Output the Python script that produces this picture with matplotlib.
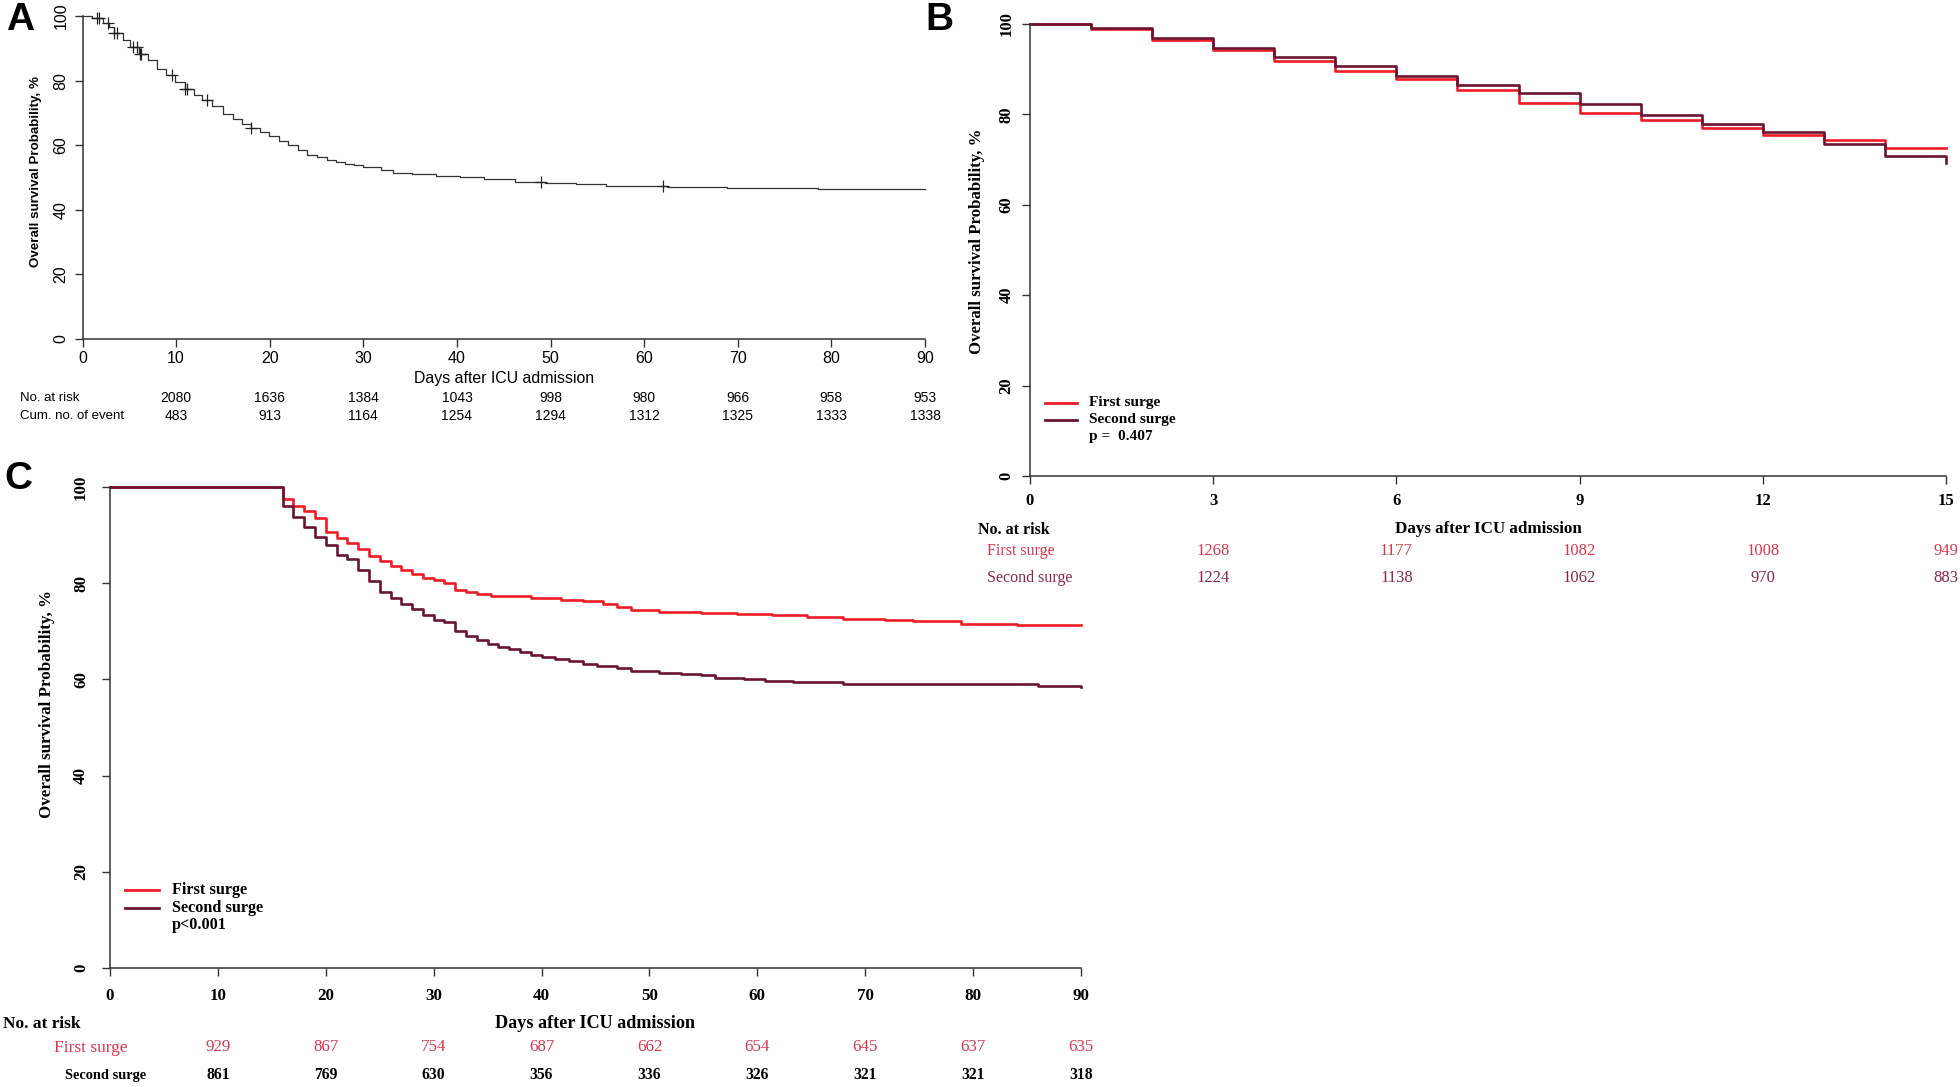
import numpy as np
import matplotlib
matplotlib.use('Agg')
import matplotlib.pyplot as plt
from matplotlib.lines import Line2D
from matplotlib.transforms import blended_transform_factory

# ---------------- Data ----------------
# Panel A (overall)
a_step_days = [0, 1.0, 2.2, 2.8, 3.4, 4.3, 5.1, 6.0, 7.0, 8.0, 8.9, 9.9, 10.9, 11.9, 12.8, 13.8,
               15.0, 16.1, 17.0, 18.0, 19.0, 19.9, 21.0, 22.0, 23.0, 24.0, 25.0, 26.1, 27.1, 28.0,
               29.0, 30.0, 31.9, 33.2, 35.2, 37.8, 40.3, 42.9, 46.2, 49.4, 52.7, 55.9, 62.4, 68.8, 78.6]
a_surv = [100, 99.3, 97.9, 96.5, 94.6, 92.5, 90.4, 88.3, 86.3, 83.7, 81.6, 79.5, 77.5, 75.6, 73.9, 72.0,
          69.7, 68.2, 66.6, 65.3, 64.0, 62.7, 61.2, 60.1, 58.4, 57.1, 56.3, 55.5, 54.8, 54.2,
          53.8, 53.2, 52.2, 51.4, 51.1, 50.6, 50.1, 49.4, 48.6, 48.2, 48.0, 47.5, 47.0, 46.8, 46.3]
a_censor_days = [1.5, 1.8, 2.75, 3.4, 3.65, 5.4, 5.8, 6.1, 6.3, 9.6, 10.9, 11.2, 13.3, 18.0, 49.0, 62.0]
a_table_days = [10, 20, 30, 40, 50, 60, 70, 80, 90]
a_at_risk = [2080, 1636, 1384, 1043, 998, 980, 966, 958, 953]
a_cum_events = [483, 913, 1164, 1254, 1294, 1312, 1325, 1333, 1338]

# Panel B (first 15 days)
b_step_days = [0, 1, 2, 3, 4, 5, 6, 7, 8, 9, 10, 11, 12, 13, 14, 15]
b_first = [100, 99.0, 96.4, 94.2, 91.9, 89.7, 87.9, 85.5, 82.6, 80.3, 78.7, 76.9, 75.5, 74.3, 72.6, 72.6]
b_second = [100, 99.2, 97.0, 94.7, 92.6, 90.7, 88.4, 86.5, 84.8, 82.2, 79.8, 77.8, 76.0, 73.4, 70.9, 69.2]
b_table_days = [3, 6, 9, 12, 15]
b_risk_first = [1268, 1177, 1082, 1008, 949]
b_risk_second = [1224, 1138, 1062, 970, 883]
b_pvalue = 'p =  0.407'

# Panel C (landmark from day 16)
c_first_days = [0, 16, 17, 18, 19, 20, 21, 22, 23, 24, 25, 26, 27, 28, 29, 30, 31, 32, 33, 34,
                35.3, 39, 41.8, 43.8, 45.7, 47, 48.3, 50.9, 54.8, 58.1, 61.4, 64.6, 67.9, 71.8, 74.4, 78.9, 84.1]
c_first = [100, 97.6, 96.2, 95.1, 93.6, 90.8, 89.5, 88.4, 87.2, 85.7, 84.6, 83.6, 82.9, 82.0, 81.2, 80.8,
           80.2, 78.7, 78.3, 77.8, 77.3, 76.9, 76.6, 76.3, 75.8, 75.1, 74.5, 74.1, 73.8, 73.6, 73.4, 73.0,
           72.7, 72.3, 72.1, 71.6, 71.4]
c_second_days = [0, 16, 17, 18, 19, 20, 21, 22, 23, 24, 25, 26, 27, 28, 29, 30, 31, 32, 33, 34, 35, 36,
                 37, 38, 39, 40, 41.2, 42.5, 43.8, 45.1, 47, 48.3, 50.9, 52.9, 54.8, 56.1, 58.8, 60.7,
                 63.3, 67.9, 83.5, 86, 90]
c_second = [100, 96.2, 93.8, 91.7, 89.7, 88.0, 85.9, 85.0, 82.9, 80.6, 78.3, 77.0, 75.7, 74.6, 73.5, 72.3,
            72.0, 70.0, 69.1, 68.3, 67.4, 66.8, 66.4, 65.7, 65.1, 64.7, 64.2, 63.8, 63.3, 62.9, 62.3,
            61.7, 61.4, 61.2, 60.9, 60.3, 60.0, 59.7, 59.4, 59.1, 59.0, 58.7, 58.4]
c_table_days = [10, 20, 30, 40, 50, 60, 70, 80, 90]
c_risk_first = [929, 867, 754, 687, 662, 654, 645, 637, 635]
c_risk_second = [861, 769, 630, 356, 336, 326, 321, 321, 318]
c_pvalue = 'p<0.001'

groups = ['First surge', 'Second surge']
y_ticks = [0, 20, 40, 60, 80, 100]

# ---------------- Style ----------------
W, H = 1960, 1087
RED = '#ee1c25'
DARK = '#6a1530'
RED_TXT = '#d8384e'
DARK_TXT = '#8a2747'
SANS = 'Liberation Sans'
SERIF = 'Liberation Serif'

fig = plt.figure(figsize=(W / 100, H / 100), dpi=100)
renderer = fig.canvas.get_renderer()


def rect(l, r, t, b):
    return [l / W, 1 - b / H, (r - l) / W, (b - t) / H]


def fy(ypix):
    return 1 - ypix / H


def size_for(text, family, weight, target_px):
    t = fig.text(0, 0, text, family=family, weight=weight, fontsize=12)
    w = t.get_window_extent(renderer).width
    t.remove()
    return 12 * target_px / w


def fit(t, target_px, vertical=False):
    bb = t.get_window_extent(renderer)
    cur = bb.height if vertical else bb.width
    t.set_fontsize(t.get_fontsize() * target_px / cur)


def step_plot(ax, days, vals, xmax, **kw):
    d = list(days)
    v = list(vals)
    if d[-1] < xmax:
        d.append(xmax)
        v.append(v[-1])
    ax.step(d, v, where='post', clip_on=False, **kw)


def style_axes(ax, xmax, xticks, family, size, xpad, ypad, weight='normal'):
    ax.set_xlim(0, xmax)
    ax.set_ylim(0, 100)
    for s in ['top', 'right']:
        ax.spines[s].set_visible(False)
    for s in ['left', 'bottom']:
        ax.spines[s].set_linewidth(1.1)
        ax.spines[s].set_color('#333333')
    ax.set_xticks(xticks)
    ax.set_yticks(y_ticks)
    ax.tick_params(length=6, width=1.0, color='#333333')
    ax.tick_params(axis='x', pad=xpad)
    ax.tick_params(axis='y', pad=ypad)
    for lab in ax.get_xticklabels():
        lab.set_family(family); lab.set_fontsize(size); lab.set_weight(weight)
    for lab in ax.get_yticklabels():
        lab.set_family(family); lab.set_fontsize(size); lab.set_weight(weight)
        lab.set_rotation(90); lab.set_va('center')
    ax.patch.set_alpha(0)


def vlabel(x_px, ax, yfrac, text, family, weight, target):
    tr = blended_transform_factory(fig.transFigure, ax.transAxes)
    t = fig.text(x_px / W, yfrac, text, transform=tr, rotation=90, ha='center', va='center',
                 family=family, weight=weight, fontsize=12)
    fit(t, target, vertical=True)
    return t


def legend_manual(ax, x0, x1, xt, ys, colors, labels, ptext, py, size):
    for y, c, lab in zip(ys, colors, labels):
        ax.add_line(Line2D([x0, x1], [y, y], color=c, lw=2.0, clip_on=False))
        ax.text(xt, y, lab, ha='left', va='center', family=SERIF, fontsize=size, weight='bold')
    ax.text(xt, py, ptext, ha='left', va='center', family=SERIF, fontsize=size, weight='bold')


# ---------------- Panel A ----------------
axA = fig.add_axes(rect(82.5, 925, 16, 339))
step_plot(axA, a_step_days, a_surv, 90, color='#333333', lw=0.9)
idx = np.searchsorted(a_step_days, a_censor_days, side='right') - 1
axA.plot(a_censor_days, np.array(a_surv)[idx], '+', color='#222222', ms=8, mew=0.9, clip_on=False)
style_axes(axA, 90, list(range(0, 91, 10)), SANS, 11.5, xpad=3, ypad=4)
vlabel(36, axA, 0.52, 'Overall survival Probability, %', SANS, 'bold', 190)
tA = axA.text(0.5, fy(379), 'Days after ICU admission',
              transform=blended_transform_factory(axA.transAxes, fig.transFigure),
              ha='center', va='center', family=SANS, fontsize=12)
fit(tA, 181)
trA = blended_transform_factory(axA.transData, fig.transFigure)
fig.text(20 / W, fy(398), 'No. at risk', ha='left', va='center', family=SANS, fontsize=9.5)
fig.text(20 / W, fy(416), 'Cum. no. of event', ha='left', va='center', family=SANS, fontsize=9.5)
for d, n1, n2 in zip(a_table_days, a_at_risk, a_cum_events):
    axA.text(d, fy(398), str(n1), transform=trA, ha='center', va='center', family=SANS, fontsize=10)
    axA.text(d, fy(416), str(n2), transform=trA, ha='center', va='center', family=SANS, fontsize=10)
fig.text(6 / W, fy(20), 'A', ha='left', va='center', family=SANS, fontsize=28, weight='bold')

# ---------------- Panel B ----------------
axB = fig.add_axes(rect(1030, 1946, 24, 476))
step_plot(axB, b_step_days, b_first, 15, color=RED, lw=1.9)
step_plot(axB, b_step_days, b_second, 15, color=DARK, lw=1.9)
style_axes(axB, 15, [0, 3, 6, 9, 12, 15], SERIF, 12, xpad=6, ypad=5, weight='bold')
vlabel(977, axB, 0.52, 'Overall survival Probability, %', SERIF, 'bold', 224)
trB = blended_transform_factory(axB.transData, fig.transFigure)
tB = axB.text(0.5, fy(529), 'Days after ICU admission',
              transform=blended_transform_factory(axB.transAxes, fig.transFigure),
              ha='center', va='center', family=SERIF, fontsize=13, weight='bold')
fit(tB, 187)
fig.text(978 / W, fy(530), 'No. at risk', ha='left', va='center', family=SERIF, fontsize=11.5, weight='bold')
fig.text(987 / W, fy(551), groups[0], ha='left', va='center', family=SERIF, fontsize=11.5, color=RED_TXT)
fig.text(987 / W, fy(578), groups[1], ha='left', va='center', family=SERIF, fontsize=11.5, color=DARK_TXT)
for d, n1, n2 in zip(b_table_days, b_risk_first, b_risk_second):
    axB.text(d, fy(551), str(n1), transform=trB, ha='center', va='center', family=SERIF, fontsize=12, color=RED_TXT)
    axB.text(d, fy(578), str(n2), transform=trB, ha='center', va='center', family=SERIF, fontsize=12, color=DARK_TXT)
legend_manual(axB, 0.25, 0.77, 0.96, [16.2, 12.4], [RED, DARK], groups, b_pvalue, 8.7,
              size_for(groups[1], SERIF, 'bold', 86))
fig.text(925 / W, fy(20), 'B', ha='left', va='center', family=SANS, fontsize=28, weight='bold')

# ---------------- Panel C ----------------
axC = fig.add_axes(rect(110, 1081, 487.5, 967.5))
step_plot(axC, c_first_days, c_first, 90, color=RED, lw=1.9)
step_plot(axC, c_second_days, c_second, 90, color=DARK, lw=1.9)
style_axes(axC, 90, list(range(0, 91, 10)), SERIF, size_for('10', SERIF, 'bold', 17), xpad=9, ypad=9,
           weight='bold')
vlabel(47, axC, 0.55, 'Overall survival Probability, %', SERIF, 'bold', 228)
trC = blended_transform_factory(axC.transData, fig.transFigure)
tC = axC.text(0.5, fy(1024), 'Days after ICU admission',
              transform=blended_transform_factory(axC.transAxes, fig.transFigure),
              ha='center', va='center', family=SERIF, fontsize=14, weight='bold')
fit(tC, 200)
fig.text(3 / W, fy(1024), 'No. at risk', ha='left', va='center', family=SERIF, fontsize=12.5, weight='bold')
fig.text(54 / W, fy(1048), groups[0], ha='left', va='center', family=SERIF, fontsize=12.5, color=RED_TXT)
sec = fig.text(65 / W, fy(1075), groups[1], ha='left', va='center', family=SERIF, fontsize=12, color='black',
               weight='bold')
fit(sec, 81)
num_red = size_for('929', SERIF, 'normal', 25)
num_blk = size_for('861', SERIF, 'bold', 23.5)
for d, n1, n2 in zip(c_table_days, c_risk_first, c_risk_second):
    axC.text(d, fy(1047), str(n1), transform=trC, ha='center', va='center', family=SERIF, fontsize=num_red,
             color=RED_TXT)
    axC.text(d, fy(1075), str(n2), transform=trC, ha='center', va='center', family=SERIF, fontsize=num_blk,
             color='black', weight='bold')
legend_manual(axC, 1.4, 4.5, 5.75, [16.2, 12.3], [RED, DARK], groups, c_pvalue, 8.9,
              size_for(groups[1], SERIF, 'bold', 91))
fig.text(4 / W, fy(479), 'C', ha='left', va='center', family=SANS, fontsize=28, weight='bold')

fig.savefig('out.png', dpi=100, facecolor='white')
